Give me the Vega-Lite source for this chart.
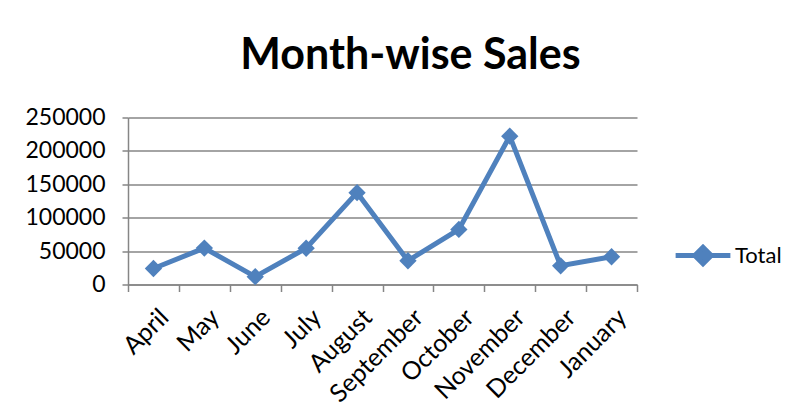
{
  "$schema": "https://vega.github.io/schema/vega-lite/v6.json",
  "width": 509,
  "height": 167,
  "autosize": {"type": "none"},
  "padding": {"left": 128, "top": 117.5, "right": 166, "bottom": 132.5},
  "background": "white",
  "title": {
    "text": "Month-wise Sales",
    "font": "Lato",
    "fontSize": 43,
    "fontWeight": "bold",
    "color": "black",
    "anchor": "middle",
    "dx": 28,
    "dy": 45,
    "offset": 40,
    "baseline": "alphabetic"
  },
  "config": {
    "view": {"stroke": null},
    "font": "Lato"
  },
  "data": {
    "values": [
      {"month": "April", "total": 24000, "series": "Total"},
      {"month": "May", "total": 54500, "series": "Total"},
      {"month": "June", "total": 11700, "series": "Total"},
      {"month": "July", "total": 54300, "series": "Total"},
      {"month": "August", "total": 137500, "series": "Total"},
      {"month": "September", "total": 35600, "series": "Total"},
      {"month": "October", "total": 82500, "series": "Total"},
      {"month": "November", "total": 222000, "series": "Total"},
      {"month": "December", "total": 28000, "series": "Total"},
      {"month": "January", "total": 41500, "series": "Total"}
    ]
  },
  "mark": {
    "type": "line",
    "strokeWidth": 5,
    "point": {"shape": "diamond", "size": 300, "filled": true, "opacity": 1}
  },
  "encoding": {
    "x": {
      "field": "month",
      "type": "nominal",
      "sort": null,
      "title": null,
      "scale": {"paddingInner": 0, "paddingOuter": 0},
      "axis": {
        "labelAngle": -45,
        "labelAlign": "right",
        "labelBaseline": "top",
        "labelFont": "Lato",
        "labelFontSize": 25,
        "labelColor": "black",
        "labelPadding": 13,
        "labelOffset": 2,
        "tickBand": "extent",
        "tickSize": 7,
        "tickColor": "#868686",
        "tickWidth": 1.5,
        "domainColor": "#868686",
        "domainWidth": 1.5,
        "grid": false
      }
    },
    "y": {
      "field": "total",
      "type": "quantitative",
      "title": null,
      "scale": {"domain": [0, 250000], "nice": false},
      "axis": {
        "values": [0, 50000, 100000, 150000, 200000, 250000],
        "format": "d",
        "labelFont": "Lato",
        "labelFontSize": 23,
        "labelColor": "black",
        "labelPadding": 17,
        "tickSize": 6,
        "tickColor": "#868686",
        "tickWidth": 1.5,
        "domainColor": "#868686",
        "domainWidth": 1.5,
        "gridColor": "#868686",
        "gridWidth": 1.5,
        "gridOpacity": 1
      }
    },
    "color": {
      "field": "series",
      "type": "nominal",
      "scale": {"range": ["#4F81BD"]},
      "legend": {
        "title": null,
        "orient": "none",
        "legendX": 545,
        "legendY": 108,
        "symbolType": "M-1,0H1M-0.3,0L0,-0.3L0.3,0L0,0.3Z",
        "symbolSize": 3000,
        "symbolStrokeWidth": 5,
        "symbolFillColor": "#4F81BD",
        "symbolStrokeColor": "#4F81BD",
        "labelFont": "Lato",
        "labelFontSize": 22,
        "labelColor": "black",
        "labelOffset": 2
      }
    }
  }
}
